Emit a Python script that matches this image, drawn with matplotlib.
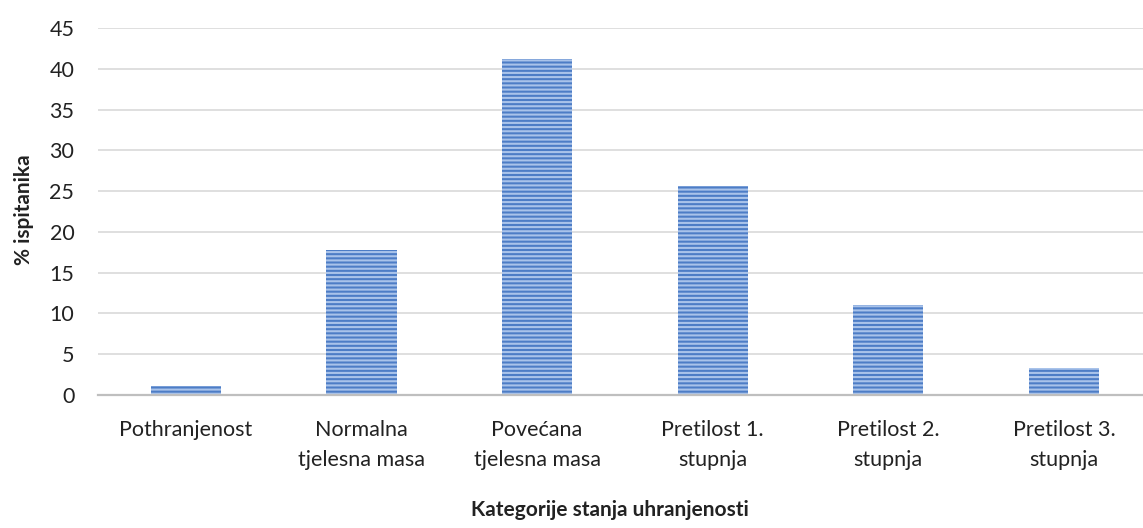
import matplotlib
matplotlib.use("Agg")
import matplotlib.pyplot as plt

# data
categories = ["Pothranjenost", "Normalna\ntjelesna masa", "Povećana\ntjelesna masa",
              "Pretilost 1.\nstupnja", "Pretilost 2.\nstupnja", "Pretilost 3.\nstupnja"]
values = [1.1, 17.8, 41.2, 25.6, 11.0, 3.3]
y_ticks = [0, 5, 10, 15, 20, 25, 30, 35, 40, 45]

plt.rcParams['font.family'] = ['Lato', 'DejaVu Sans']
plt.rcParams['hatch.linewidth'] = 1.5

fig = plt.figure(figsize=(11.43, 5.28), dpi=100)
ax = fig.add_axes([0.0857, 0.252, 0.9143, 0.695])

x = range(len(categories))
ax.bar(x, values, width=0.40, color='#4D7DC6', edgecolor='#A9C3EA',
       hatch='----', linewidth=0, zorder=3)

ax.set_ylim(0, 45)
ax.set_xlim(-0.5, 5.45)
ax.set_yticks(y_ticks)
ax.set_xticks(list(x))
ax.set_xticklabels(categories, fontsize=15.5, color='#222222', linespacing=1.6)
ax.tick_params(axis='y', length=0, pad=17, labelsize=15.5, labelcolor='#222222')
ax.tick_params(axis='x', length=0, pad=18)

ax.grid(axis='y', color='#D9D9D9', linewidth=1.2, zorder=0)
for s in ['top', 'right', 'left']:
    ax.spines[s].set_visible(False)
ax.spines['bottom'].set_color('#BFBFBF')
ax.spines['bottom'].set_linewidth(1.6)
ax.spines['bottom'].set_zorder(4)

# axis titles placed by hand like in the source chart
fig.text(0.534, 0.034, "Kategorije stanja uhranjenosti", ha='center', va='center',
         fontsize=15, fontweight='bold', color='#222222')
fig.text(0.021, 0.602, "% ispitanika", ha='center', va='center', rotation=90,
         fontsize=15, fontweight='bold', color='#222222')

fig.savefig("out.png", dpi=100)
